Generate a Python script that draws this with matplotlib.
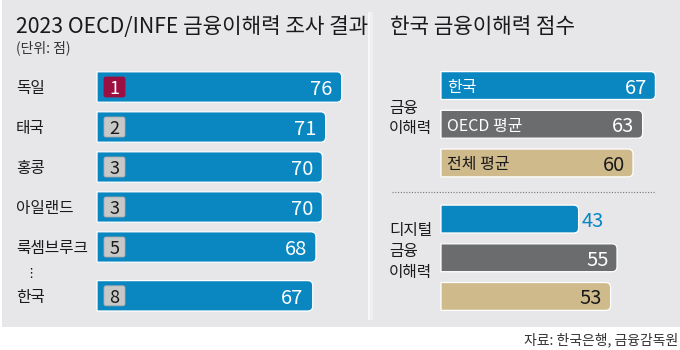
import matplotlib
matplotlib.use("Agg")
import matplotlib.pyplot as plt
from matplotlib.path import Path
from matplotlib.patches import PathPatch, Rectangle
from matplotlib.lines import Line2D

plt.rcParams['font.family'] = ['Noto Sans CJK KR', 'DejaVu Sans']
plt.rcParams['font.weight'] = 'medium'

# ---------------- data ----------------
countries = ["독일", "태국", "홍콩", "아일랜드", "룩셈브루크", "한국"]
ranks = [1, 2, 3, 3, 5, 8]
scores = [76, 71, 70, 70, 68, 67]

groups = ["금융\n이해력", "디지털\n금융\n이해력"]
kr_labels = ["한국", "OECD 평균", "전체 평균"]
kr_fin = [67, 63, 60]
kr_digital = [43, 55, 53]

title_left = "2023 OECD/INFE 금융이해력 조사 결과"
unit_text = "(단위: 점)"
title_right = "한국 금융이해력 점수"
source_text = "자료: 한국은행, 금융감독원"

# ---------------- style ----------------
W, H = 680, 350
BG = "#e7e7e9"
BLUE = "#0a87c1"
DGRAY = "#6b6c6e"
TAN = "#cfba8b"
RED = "#9b1040"
BADGE = "#c8c8c8"
TXT = "#1a1a1a"

fig = plt.figure(figsize=(W / 100, H / 100), dpi=100)
fig.patch.set_facecolor("white")


def fx(x):
    return x / W


def fy(y):
    return 1 - y / H


# panel background
fig.patches.append(Rectangle((fx(2), fy(327)), 1, 327 / H, transform=fig.transFigure,
                             facecolor=BG, edgecolor="none", zorder=-3))
# divider strip
fig.patches.append(Rectangle((fx(368), fy(320)), 2 / W, 308 / H, transform=fig.transFigure,
                             facecolor="#f7f7f8", edgecolor="none", zorder=-2))
fig.patches.append(Rectangle((fx(370), fy(320)), 3 / W, 308 / H, transform=fig.transFigure,
                             facecolor="#efeff1", edgecolor="none", zorder=-2))


def rbar(ax, y, w, h, color, r_right=5, r_left=0, x0=0, ec="white", lw=0.9, z=2):
    p0 = ax.transData.transform((0, 0))
    p1 = ax.transData.transform((1, 1))
    sx = abs(p1[0] - p0[0])
    sy = abs(p1[1] - p0[1])
    rxr, ryr = r_right / sx, r_right / sy
    rxl, ryl = r_left / sx, r_left / sy
    t, b = y - h / 2, y + h / 2
    x1 = x0 + w
    verts = [(x0 + rxl, t), (x1 - rxr, t), (x1, t), (x1, t + ryr),
             (x1, b - ryr), (x1, b), (x1 - rxr, b),
             (x0 + rxl, b), (x0, b), (x0, b - ryl),
             (x0, t + ryl), (x0, t), (x0 + rxl, t), (x0 + rxl, t)]
    codes = [Path.MOVETO, Path.LINETO, Path.CURVE3, Path.CURVE3,
             Path.LINETO, Path.CURVE3, Path.CURVE3,
             Path.LINETO, Path.CURVE3, Path.CURVE3,
             Path.LINETO, Path.CURVE3, Path.CURVE3, Path.CLOSEPOLY]
    patch = PathPatch(Path(verts, codes), facecolor=color, edgecolor=ec, lw=lw, zorder=z,
                      clip_on=False)
    ax.add_patch(patch)
    return patch


# ---------------- left panel ----------------
PXU = 3.22  # pixels per score unit
axL = fig.add_axes([fx(97), fy(327), (360 - 97) / W, 260 / H])
axL.set_xlim(0, (360 - 97) / PXU)
axL.set_ylim(6.0, -0.5)
axL.axis("off")
yL = [0, 1, 2, 3, 4, 5.22]

for i, (c, r, s) in enumerate(zip(countries, ranks, scores)):
    y = yL[i]
    rbar(axL, y, s, 0.76, BLUE)
    # rank badge
    bx0 = 7 / PXU
    bw = 21 / PXU
    rbar(axL, y, bw, 0.5, RED if r == 1 else BADGE, r_right=2, r_left=2, x0=bx0,
         ec=RED if r == 1 else "#a9a9a9", lw=0.6, z=3)
    axL.text(bx0 + bw / 2, y, str(r), ha="center", va="center_baseline", fontsize=13,
             color="white" if r == 1 else TXT, zorder=4)
    axL.annotate(str(s), (s, y), xytext=(-6.5, 0), textcoords="offset points",
                 ha="right", va="center_baseline", fontsize=14.5, color="white", zorder=4)
    axL.annotate(c, (fx(16), y), xycoords=(fig.transFigure, axL.transData),
                 ha="left", va="center_baseline", fontsize=11.3, color=TXT)

# ellipsis between 5th and Korea
axL.annotate("⋮", (fx(31), (yL[4] + yL[5]) / 2 + 0.05), xycoords=(fig.transFigure, axL.transData),
             ha="center", va="center", fontsize=9.5, color=TXT, family=["DejaVu Sans"])

fig.text(fx(16), fy(33), title_left, ha="left", va="baseline", fontsize=15.3, color=TXT)
fig.text(fx(16), fy(52), unit_text, ha="left", va="baseline", fontsize=10, color="#333333")

# ---------------- right panel ----------------
PXR = 3.2
axR = fig.add_axes([fx(441), fy(315.8), (680 - 441) / W, 249.6 / H])
axR.set_xlim(0, (680 - 441) / PXR)
axR.set_ylim(5.95, -0.5)
axR.axis("off")
yR1 = [0, 1, 2]
yR2 = [3.45, 4.45, 5.45]
colors = [BLUE, DGRAY, TAN]
inner_txt = ["white", "white", TXT]

for i in range(3):
    y = yR1[i]
    rbar(axR, y, kr_fin[i], 0.72, colors[i])
    axR.annotate(kr_labels[i], (0, y), xytext=(4.5, 0), textcoords="offset points",
                 ha="left", va="center_baseline", fontsize=11.5, color=inner_txt[i])
    axR.annotate(str(kr_fin[i]), (kr_fin[i], y), xytext=(-6, 0), textcoords="offset points",
                 ha="right", va="center_baseline", fontsize=14.5, color=inner_txt[i])

for i in range(3):
    y = yR2[i]
    v = kr_digital[i]
    rbar(axR, y, v, 0.72, colors[i])
    if i == 0:
        axR.annotate(str(v), (v, y), xytext=(2.5, 0), textcoords="offset points",
                     ha="left", va="center_baseline", fontsize=14.5, color=BLUE)
    else:
        axR.annotate(str(v), (v, y), xytext=(-6, 0), textcoords="offset points",
                     ha="right", va="center_baseline", fontsize=14.5, color=inner_txt[i])

# separator dotted line
fig.add_artist(Line2D([fx(392), fx(655)], [fy(192), fy(192)], transform=fig.transFigure,
                      color="#777777", lw=0.8, linestyle=(0, (1, 1.5))))

fig.text(fx(389), fy(118.5), groups[0], ha="left", va="center", fontsize=11.3, color=TXT,
         linespacing=1.3)
fig.text(fx(389), fy(251.5), groups[1], ha="left", va="center", fontsize=11.3, color=TXT,
         linespacing=1.3)

fig.text(fx(390), fy(33), title_right, ha="left", va="baseline", fontsize=15.3, color=TXT)

fig.text(fx(678), fy(344), source_text, ha="right", va="baseline", fontsize=10, color="#333333")

fig.savefig("out.png", dpi=100, facecolor=fig.get_facecolor())
